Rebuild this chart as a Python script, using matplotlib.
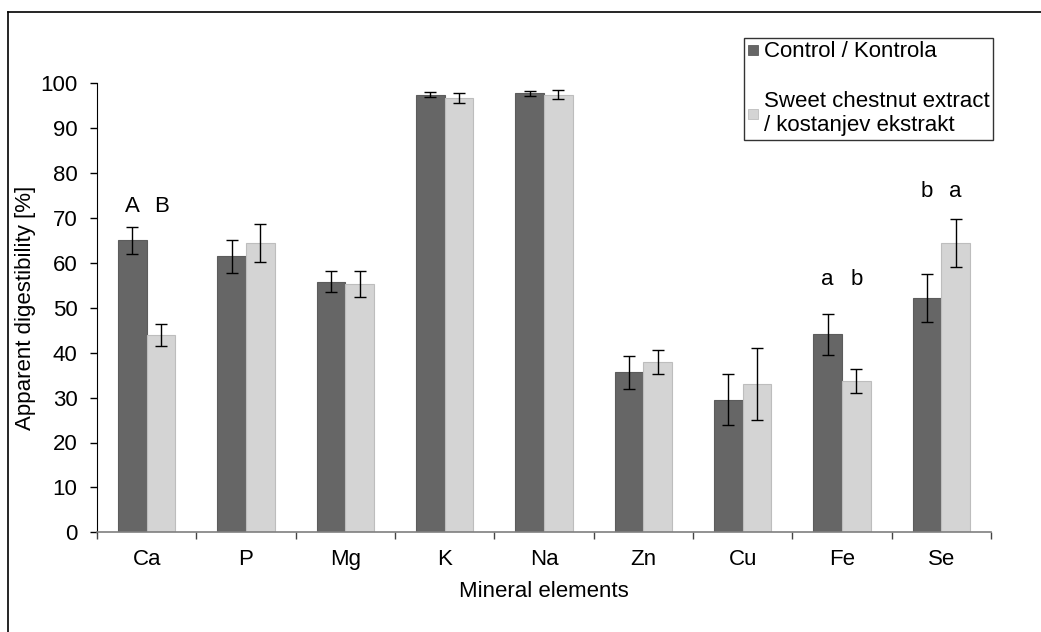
import numpy as np
import matplotlib
matplotlib.use("Agg")
import matplotlib.pyplot as plt
from matplotlib.lines import Line2D

plt.rcParams['font.family'] = ['Liberation Sans', 'DejaVu Sans']

# Data
elements = ["Ca", "P", "Mg", "K", "Na", "Zn", "Cu", "Fe", "Se"]
control = [65.0, 61.5, 55.8, 97.5, 97.8, 35.6, 29.5, 44.1, 52.2]
control_err = [3.0, 3.7, 2.3, 0.6, 0.55, 3.7, 5.7, 4.6, 5.3]
extract = [44.0, 64.4, 55.3, 96.7, 97.4, 38.0, 33.0, 33.7, 64.4]
extract_err = [2.4, 4.3, 3.0, 1.1, 1.0, 2.65, 8.0, 2.7, 5.3]
series_names = ["Control / Kontrola", "Sweet chestnut extract\n/ kostanjev ekstrakt"]

# significance letters: (element index, control letter, extract letter, height)
letters = [(0, "A", "B", 72.5), (7, "a", "b", 56.2), (8, "b", "a", 75.8)]

dark = "#666666"
light = "#d4d4d4"
fs = 16

fig = plt.figure(figsize=(10.41, 6.32), dpi=100)
ax = fig.add_axes([97 / 1041, 1 - 532.3 / 632, 894 / 1041, (532.3 - 83.3) / 632])

x = np.arange(len(elements))
w = 0.29
ax.bar(x - w / 2, control, w, color=dark, edgecolor="#5c5c5c", linewidth=0.8, zorder=2)
ax.bar(x + w / 2, extract, w, color=light, edgecolor="#bdbdbd", linewidth=0.8, zorder=2)
ax.errorbar(x - w / 2, control, yerr=control_err, fmt="none", ecolor="black",
            elinewidth=1, capsize=4, capthick=1, zorder=3)
ax.errorbar(x + w / 2, extract, yerr=extract_err, fmt="none", ecolor="black",
            elinewidth=1, capsize=4, capthick=1, zorder=3)

for i, a, b, h in letters:
    ax.text(i - w / 2, h, a, ha="center", va="center", fontsize=fs)
    ax.text(i + w / 2, h, b, ha="center", va="center", fontsize=fs)

ax.set_xlim(-0.5, len(elements) - 0.5)
ax.set_ylim(0, 100)
ax.set_yticks(np.arange(0, 101, 10))
ax.set_xticks(np.arange(-0.5, len(elements), 1.0))
ax.set_xticklabels([])
ax.set_xticks(x, minor=True)
ax.set_xticklabels(elements, minor=True)

ax.spines["top"].set_visible(False)
ax.spines["right"].set_visible(False)
ax.spines["left"].set_color("black")
ax.spines["bottom"].set_color("#7f7f7f")
ax.spines["bottom"].set_linewidth(1.2)
ax.tick_params(axis="y", direction="out", length=5, width=1, pad=9, labelsize=fs)
ax.tick_params(axis="x", which="major", direction="out", length=5, width=1,
               color="#444444")
ax.tick_params(axis="x", which="minor", length=0, pad=12, labelsize=fs)

ax.set_ylabel("Apparent digestibility [%]", fontsize=fs, labelpad=3)
ax.set_xlabel("Mineral elements", fontsize=fs, labelpad=8)

# square legend markers like the spreadsheet original
handles = [
    Line2D([], [], ls="none", marker="s", markersize=7, markerfacecolor=dark,
           markeredgecolor="#5c5c5c", markeredgewidth=0.6),
    Line2D([], [], ls="none", marker="s", markersize=7, markerfacecolor=light,
           markeredgecolor="#bdbdbd", markeredgewidth=0.6),
]
leg = ax.legend(handles, series_names, loc="upper left",
                bbox_to_anchor=(744 / 1041, 1 - 38 / 632),
                bbox_transform=fig.transFigure, fontsize=fs, frameon=True,
                fancybox=False, edgecolor="black", handlelength=0.5,
                handletextpad=0.25, labelspacing=1.3,
                borderpad=0.15, borderaxespad=0)
leg.get_frame().set_linewidth(1)

# outer frame (top and left edges only visible)
fig.add_artist(Line2D([8 / 1041, 1], [1 - 12 / 632, 1 - 12 / 632], color="black", lw=1.2))
fig.add_artist(Line2D([8 / 1041, 8 / 1041], [0, 1 - 12 / 632], color="black", lw=1.2))

fig.savefig("out.png", dpi=100)
